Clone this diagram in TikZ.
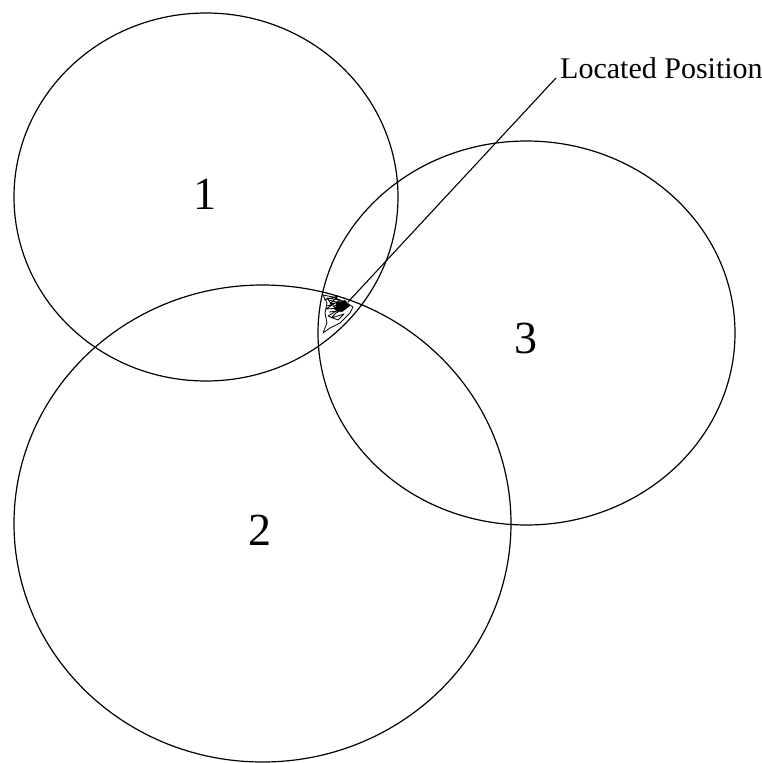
\documentclass[tikz,border=0pt]{standalone}
\usepackage{fontspec}
\setmainfont{Liberation Serif}
\usetikzlibrary{positioning}

\begin{document}
\begin{tikzpicture}[
    x=1pt, y=-1pt,
    ring/.style={draw, line width=1.2pt},
    numlbl/.style={font=\fontsize{46}{46}\selectfont, inner sep=0pt},
    poslbl/.style={font=\fontsize{30}{32}\selectfont, anchor=base west, inner xsep=4pt, inner ysep=0pt},
    lead/.style={line width=1.1pt},
    track/.style={line width=0.8pt, line join=round}
]
    \useasboundingbox (0,0) rectangle (762,763);

    % circle centres
    \coordinate (c1) at (206,197);
    \coordinate (c2) at (262.5,523.5);
    \coordinate (c3) at (526.5,333);

    % coverage circles
    \draw[ring] (c1) ellipse [x radius=192, y radius=184];
    \draw[ring] (c2) ellipse [x radius=248.5, y radius=238.5];
    \draw[ring] (c3) ellipse [x radius=208.5, y radius=192];

    % numbers
    \node[numlbl] (n1) at (205,194) {1};
    \node[numlbl] (n2) at (260,530) {2};
    \node[numlbl] (n3) at (526,338) {3};

    % estimate track
    \draw[track] (323,333) -- (327,323) -- (325,313) -- (327,303) -- (323,295)
        -- (333,297) -- (347,303) -- (353,307) -- (350,313) -- (340,323)
        -- (330,328) -- (323,333);
    \draw[track] (324,300) -- (338,296) -- (330,304) -- (345,301) -- (334,309)
        -- (349,306) -- (336,313) -- (331,318) -- (344,314) -- (338,320)
        -- (328,316) -- (341,308) -- (326,309) -- (340,300) -- (327,298)
        -- (332,305) -- (326,306);
    \draw[track] (329,300) -- (343,304) -- (333,306) -- (339,311) -- (329,312);
    \fill (336,303) -- (345,300) -- (350,306) -- (342,312) -- (335,310) -- cycle;

    % located position
    \coordinate (fix) at (348,302);
    \node[poslbl] (loc) at (556,78) {Located Position};
    \draw[lead] (fix) -- (loc.base west);
\end{tikzpicture}
\end{document}
